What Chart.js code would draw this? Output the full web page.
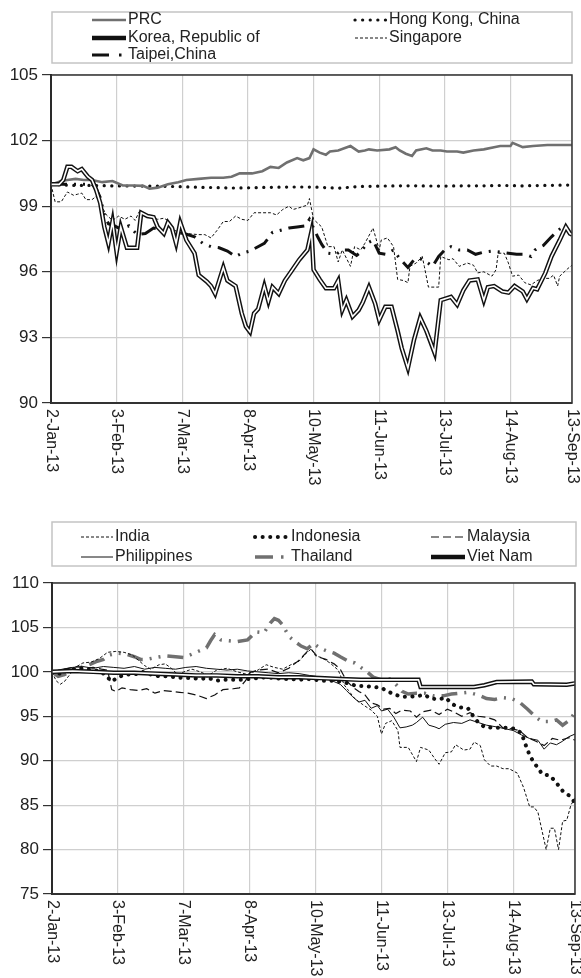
<!DOCTYPE html>
<html>
<head>
<meta charset="utf-8">
<script src="https://cdn.jsdelivr.net/npm/chart.js@4.4.1/dist/chart.umd.min.js"></script>
<style>
  html, body { margin: 0; padding: 0; background: #fff; }
  .panel { position: absolute; left: 0; width: 581px; }
  #top { top: 0; height: 490px; }
  #bottom { top: 490px; height: 488px; }
</style>
</head>
<body>
<div class="panel" id="top"><canvas id="chartTop" width="581" height="490"></canvas></div>
<div class="panel" id="bottom"><canvas id="chartBottom" width="581" height="488"></canvas></div>
<script>
// Daily index levels, 2 Jan 2013 = 100. x = days since 2-Jan-13.

const FONT = "'Liberation Sans', Arial, sans-serif";
const TICK_DAYS = [0, 32, 64, 96, 128, 160, 192, 224, 254];
const TICK_LABELS = ['2-Jan-13', '3-Feb-13', '7-Mar-13', '8-Apr-13', '10-May-13', '11-Jun-13', '13-Jul-13', '14-Aug-13', '13-Sep-13'];

// ---- top panel: East Asia ----
const PRC = [[0,100],[2,100.05],[5,100.15],[8,100.2],[12,100.25],[16,100.2],[20,100.2],[25,100.1],[30,100.15],[35,99.95],[40,99.95],[45,99.93],[48,99.8],[52,99.85],[57,100],[62,100.1],[66,100.2],[72,100.25],[78,100.3],[84,100.3],[88,100.35],[92,100.5],[98,100.5],[103,100.6],[107,100.8],[111,100.75],[115,101],[120,101.2],[123,101.1],[126,101.2],[128,101.6],[131,101.45],[134,101.35],[136,101.5],[140,101.55],[146,101.75],[150,101.5],[153,101.55],[155,101.6],[159,101.55],[165,101.6],[168,101.7],[170,101.55],[173,101.4],[176,101.3],[178,101.55],[183,101.65],[186,101.55],[190,101.55],[193,101.5],[198,101.5],[201,101.45],[206,101.55],[211,101.6],[216,101.7],[219,101.75],[224,101.75],[225,101.9],[230,101.7],[235,101.75],[242,101.8],[248,101.8],[254,101.8]];
const HONG_KONG = [[0,100],[10,99.95],[20,99.95],[30,99.93],[40,99.92],[50,99.92],[60,99.9],[70,99.87],[80,99.85],[90,99.83],[100,99.85],[110,99.87],[120,99.88],[130,99.87],[140,99.82],[150,99.9],[160,99.92],[170,99.93],[180,99.93],[190,99.92],[200,99.93],[210,99.93],[220,99.95],[230,99.93],[240,99.95],[254,99.97]];
const KOREA = [[0,100],[4,100],[6,100.2],[8,100.8],[10,100.8],[13,100.6],[15,100.7],[18,100.35],[20,100.2],[22,99.75],[24,99.15],[26,98.05],[28,97.3],[30,98.3],[32,96.9],[34,98.05],[37,97.1],[42,97.1],[44,98.7],[47,98.55],[50,98.5],[52,98.05],[55,97.75],[57,98.25],[59,98],[61,97.3],[63,98.25],[66,97.45],[70,96.85],[72,95.85],[76,95.55],[78,95.35],[80,95],[82,95.6],[84,96.2],[86,95.6],[90,95.35],[93,94.1],[95,93.5],[97,93.25],[99,94.1],[101,94.3],[104,95.35],[106,94.65],[108,95.3],[111,95],[114,95.6],[117,96],[121,96.55],[125,97],[127,97.85],[128,96.1],[131,95.65],[134,95.25],[138,95.25],[140,95.6],[142,94.25],[144,94.7],[147,93.95],[150,94.25],[152,94.6],[155,95.3],[158,94.55],[160,93.8],[163,94.4],[166,94.4],[169,93.3],[171,92.5],[174,91.6],[177,92.9],[180,93.9],[183,93.3],[187,92.3],[190,94.7],[195,94.85],[198,94.5],[201,95.15],[204,95.6],[208,95.65],[211,94.7],[213,95.3],[216,95.35],[220,95.1],[223,95.05],[226,95.35],[230,95.1],[232,94.75],[235,95.25],[237,95.2],[241,95.95],[244,96.7],[248,97.45],[251,98.05],[253,97.75],[254,97.7]];
const SINGAPORE = [[0,100],[2,99.2],[5,99.2],[8,99.65],[11,99.5],[13,99.55],[15,99.6],[17,99.3],[20,99.3],[22,99.45],[25,98.95],[27,98.6],[30,98.35],[33,98.55],[36,98.4],[39,98.55],[41,98.35],[43,98.75],[46,98.55],[49,98.5],[52,98.4],[55,98.45],[57,98.35],[60,97.9],[63,97.8],[66,97.75],[72,97.7],[75,97.7],[78,97.55],[81,97.9],[84,98.3],[87,98.3],[90,98.55],[93,98.4],[96,98.35],[99,98.7],[107,98.7],[110,98.6],[113,98.85],[116,99],[118,98.85],[120,98.9],[125,99.05],[126,99.35],[128,98.4],[132,98.05],[135,97.15],[138,97.15],[140,96.45],[142,97],[146,96.25],[148,97.15],[151,97],[153,97.3],[157,98],[160,97],[161,97.45],[164,97.55],[167,97.15],[169,95.65],[172,95.6],[174,95.5],[175,96.25],[178,96.4],[181,96.7],[182,96.25],[184,95.3],[189,95.3],[190,96.7],[194,96.55],[196,96.6],[199,96.25],[203,96.4],[206,96.3],[208,95.95],[211,96],[215,95.8],[217,96.1],[218,96.85],[221,96.85],[223,96.4],[225,95.8],[228,95.85],[231,95.5],[234,95.4],[237,95.6],[240,95.7],[243,95.7],[245,95.85],[247,95.35],[248,95.8],[252,96.15],[254,96.3]];
const TAIPEI = [[0,100],[10,100],[20,100],[22,99.8],[24,99.4],[26,98.6],[28,98.2],[31,98.1],[34,97.95],[38,98.1],[42,97.7],[46,97.75],[50,98],[55,97.9],[60,97.8],[65,97.75],[70,97.6],[74,97.3],[78,97.15],[82,97.1],[86,96.95],[90,96.7],[93,96.85],[97,96.95],[100,97.1],[104,97.3],[108,97.8],[112,97.9],[116,98],[120,98.05],[124,98.1],[126,98.4],[128,98],[130,97.6],[132,97.25],[135,96.85],[139,96.8],[142,97],[145,97],[149,96.75],[151,96.9],[154,97.3],[157,97.45],[160,96.85],[163,96.8],[167,97],[170,96.6],[174,96.2],[177,96.55],[180,96.6],[183,96.45],[186,96.25],[189,96.7],[192,97],[195,97.15],[199,97],[203,97],[207,96.8],[211,96.9],[215,96.95],[219,96.9],[223,96.85],[227,96.8],[231,96.8],[234,96.7],[236,97],[240,97.2],[244,97.6],[248,97.95],[250,98.05],[252,97.8],[254,97.7]];
const TOP_NAMES = ['PRC', 'Hong Kong, China', 'Korea, Republic of', 'Singapore', 'Taipei,China'];

// ---- bottom panel: Southeast and South Asia ----
const INDIA = [[0,100],[2,99],[4,98.6],[6,98.9],[9,99.8],[12,100.6],[15,101],[19,101.1],[23,101.5],[27,102.2],[31,102.3],[35,102.2],[39,101.9],[42,101.3],[45,100.7],[48,100.3],[52,100.8],[55,100.9],[58,100.4],[61,99.7],[64,100],[68,100.3],[72,100],[76,99.6],[80,100.2],[85,100.4],[90,100],[95,99.7],[100,100.2],[104,100.8],[108,100.5],[112,100.3],[116,100.8],[120,101.2],[123,102],[126,102.6],[128,101.8],[131,101.6],[135,101],[139,100.2],[142,98.5],[144,97.9],[147,97],[151,96.3],[155,95.7],[158,95],[160,93],[162,94.2],[165,94.5],[168,93.4],[169,91.5],[173,91.5],[177,89.9],[179,91.5],[183,91.2],[186,90.2],[188,89.6],[191,90.9],[194,91],[196,91.8],[200,91.2],[203,91.3],[205,92.1],[208,91.7],[210,90.1],[213,89.4],[216,89.4],[219,89.1],[222,89.1],[226,88.6],[229,87],[232,84.8],[234,84.8],[236,84.2],[240,80],[242,82.4],[244,82.4],[246,80],[248,83.2],[250,83.3],[252,85],[254,85.8]];
const INDONESIA = [[0,100],[4,99.8],[8,100.2],[12,100.4],[16,100.3],[20,100.2],[24,100],[27,99.4],[29,98.9],[32,99.4],[36,99.7],[40,99.7],[44,100],[48,99.7],[52,99.5],[56,99.5],[60,99.4],[64,99.3],[68,99.3],[72,99.2],[76,99.3],[80,99],[84,99.1],[92,99.1],[96,99.2],[100,99.3],[104,99.4],[108,99.3],[112,99.2],[116,99.2],[120,99.1],[124,99.2],[128,99.1],[132,99],[136,99],[140,98.9],[144,98.7],[148,98.4],[152,98.4],[156,98.3],[160,98.2],[163,97.8],[167,97.4],[170,97.2],[174,97.2],[178,97.3],[181,97.4],[184,97],[188,96.9],[191,97.1],[195,96.3],[198,96],[202,95.9],[204,95.2],[207,94.3],[210,93.8],[214,93.7],[218,93.7],[222,93.7],[225,93.6],[228,93.1],[230,91.8],[232,90.6],[234,89.8],[236,89.2],[238,88.5],[242,88.3],[245,87.5],[248,86.6],[251,86.1],[254,85.3]];
const MALAYSIA = [[0,100],[4,100.2],[8,100.4],[12,100.6],[16,100.4],[20,100.5],[24,100.3],[27,100.2],[29,98],[31,97.8],[34,98.2],[38,98],[42,97.9],[46,98.1],[50,97.6],[54,97.9],[58,97.8],[62,97.7],[66,97.6],[70,97.4],[75,97],[79,97.4],[83,98],[88,98.1],[91,98.2],[94,99],[96,99.9],[100,100.2],[105,100.3],[110,99.9],[115,100.4],[120,101.3],[124,102.3],[126,102.5],[129,101.7],[133,101.4],[137,100.9],[140,100.3],[143,99],[146,98.3],[149,97.8],[152,97.4],[155,96.5],[158,96.3],[161,95.8],[164,95.9],[167,95.3],[170,95.7],[174,95.6],[177,94.9],[180,95.5],[184,95.7],[188,95.2],[192,95.8],[195,95.5],[199,95],[203,95.4],[207,95],[211,94.9],[215,94.6],[219,93.7],[223,93.6],[227,93.4],[231,92.6],[235,92.2],[239,91.7],[243,92.5],[247,92.3],[251,92.6],[254,92.3]];
const PHILIPPINES = [[0,100],[5,100.3],[10,100.5],[15,100.6],[20,100.4],[25,100.6],[30,100.5],[35,100.4],[40,100.6],[45,100.3],[50,100.5],[55,100.4],[60,100.3],[65,100.5],[70,100.6],[75,100.4],[80,100.3],[85,100.2],[90,100.3],[95,100.1],[100,100],[105,99.9],[110,99.8],[115,99.9],[120,99.8],[125,99.6],[128,99.5],[132,99.3],[136,99],[140,98.6],[143,97.9],[146,97.2],[149,96.6],[152,96.8],[155,95.9],[158,96.2],[160,95.6],[163,95.8],[166,94.9],[169,93.7],[172,93.8],[175,94],[177,94.3],[180,94.9],[183,94],[186,93.8],[188,93.6],[191,94.1],[195,94.3],[199,94.2],[203,94.6],[207,94.3],[211,94],[216,93.8],[220,93.6],[224,93.4],[228,92.9],[232,92.5],[236,92.3],[239,91.3],[242,92],[245,91.8],[248,92.2],[251,92.7],[254,93]];
const THAILAND = [[0,100],[3,99.5],[6,99.7],[10,100.2],[14,100.5],[18,100.8],[22,101.2],[25,101.4],[28,101.9],[32,102.1],[36,102],[40,101.7],[43,101.4],[46,101.4],[50,101.6],[55,101.8],[60,101.7],[64,101.6],[68,102],[72,102.4],[75,102.7],[77,103.5],[79,104.2],[82,103.6],[86,103.5],[90,103.4],[95,103.6],[99,104.5],[103,104.4],[106,105.5],[108,106],[110,105.8],[112,105.3],[115,104],[118,103.4],[121,102.9],[124,102.6],[127,103.2],[130,102.7],[133,102.4],[137,102.1],[140,101.7],[144,101.2],[147,101],[150,100.5],[153,100],[156,99.4],[160,99.1],[164,99.2],[167,98.6],[170,97.8],[173,97.5],[177,97.6],[181,97.6],[185,97.3],[190,97.3],[194,97.5],[198,97.6],[202,97.7],[207,97.4],[211,97],[215,96.9],[219,97.1],[223,97],[227,96.6],[231,95.8],[235,94.9],[238,94.4],[242,94.4],[245,94.6],[248,94],[251,94.5],[254,95.4]];
const VIET_NAM = [[0,100],[10,100.1],[20,100],[30,99.9],[40,99.9],[50,99.8],[60,99.7],[70,99.6],[80,99.6],[90,99.5],[100,99.5],[110,99.4],[120,99.4],[130,99.3],[140,99.2],[150,99.1],[178,99.1],[179,98.3],[205,98.3],[210,98.5],[216,98.85],[233,98.9],[234,98.6],[250,98.55],[254,98.7]];
const BOTTOM_NAMES = ['India', 'Indonesia', 'Malaysia', 'Philippines', 'Thailand', 'Viet Nam'];

const BLACK = '#111';
const GRAY = '#707070';
const DASH_DOT = [16, 7, 2, 7, 2, 7];
const DASH_DOT_KEY = [17, 10, 2.5, 30];

function pts(arr) { return arr.map(([x, y]) => ({ x, y })); }

function series(label, arr, color, width, dash, extra) {
  return Object.assign({
    label, data: pts(arr), borderColor: color, backgroundColor: color,
    borderWidth: width, borderDash: dash || [], pointRadius: 0, fill: false,
    tension: 0, order: 2,
  }, extra || {});
}

// double line: thick black with a white core drawn on top
function doubleLine(label, arr) {
  return [
    series(label, arr, BLACK, 4.5, [], { order: 1 }),
    series(label + ' core', arr, '#fff', 1.6, [], { order: 0, hideInLegend: true }),
  ];
}

const dotted = (w, gap) => ({ borderCapStyle: 'round', borderDash: [0.1, gap], borderWidth: w });

const topDatasets = [
  series(TOP_NAMES[0], PRC, GRAY, 2.6),
  series(TOP_NAMES[1], HONG_KONG, BLACK, 3.2, null, dotted(3.2, 7.5)),
  ...doubleLine(TOP_NAMES[2], KOREA),
  series(TOP_NAMES[3], SINGAPORE, BLACK, 1, [3, 2]),
  series(TOP_NAMES[4], TAIPEI, BLACK, 3, DASH_DOT, { keyDash: DASH_DOT_KEY }),
];

const bottomDatasets = [
  series(BOTTOM_NAMES[0], INDIA, BLACK, 1, [3, 2]),
  series(BOTTOM_NAMES[1], INDONESIA, BLACK, 4, null, dotted(4, 7.5)),
  series(BOTTOM_NAMES[2], MALAYSIA, BLACK, 1.2, [8, 4]),
  series(BOTTOM_NAMES[3], PHILIPPINES, BLACK, 1),
  series(BOTTOM_NAMES[4], THAILAND, GRAY, 3.5, DASH_DOT, { keyDash: [18, 8, 2.5, 30] }),
  ...doubleLine(BOTTOM_NAMES[5], VIET_NAM),
];

// plot-area frame (top and right edges too)
const framePlugin = {
  id: 'frame',
  afterDatasetsDraw(chart) {
    const { ctx, chartArea: a } = chart;
    ctx.save();
    ctx.strokeStyle = '#333';
    ctx.lineWidth = 1.5;
    ctx.strokeRect(a.left, a.top, a.right - a.left, a.bottom - a.top);
    ctx.restore();
  },
};

// date labels read top-to-bottom under each gridline
const dateLabelPlugin = {
  id: 'dateLabels',
  afterDraw(chart) {
    const { ctx, chartArea: a } = chart;
    const xs = chart.scales.x;
    ctx.save();
    ctx.font = '16px ' + FONT;
    ctx.fillStyle = '#222';
    ctx.textAlign = 'left';
    ctx.textBaseline = 'middle';
    TICK_DAYS.forEach((d, i) => {
      ctx.save();
      ctx.translate(xs.getPixelForValue(d), a.bottom + 6);
      ctx.rotate(Math.PI / 2);
      ctx.fillText(TICK_LABELS[i], 0, 0);
      ctx.restore();
    });
    ctx.restore();
  },
};

// boxed legend laid out in columns
const boxLegendPlugin = {
  id: 'boxLegend',
  afterDraw(chart, args, opts) {
    const { ctx } = chart;
    const ds = chart.data.datasets.filter(d => !d.hideInLegend);
    ctx.save();
    ctx.strokeStyle = '#c4c4c4';
    ctx.lineWidth = 1.5;
    ctx.strokeRect(...opts.box);
    ctx.font = '16px ' + FONT;
    ctx.fillStyle = '#222';
    ctx.textBaseline = 'middle';
    ds.forEach((d, i) => {
      const col = opts.cols[i % opts.cols.length];
      const y = opts.rows[Math.floor(i / opts.cols.length)];
      ctx.save();
      ctx.strokeStyle = d.borderColor;
      ctx.lineWidth = d.borderWidth;
      ctx.setLineDash(d.keyDash || d.borderDash || []);
      ctx.lineCap = d.borderCapStyle || 'butt';
      ctx.beginPath();
      ctx.moveTo(col[0], y);
      ctx.lineTo(col[1], y);
      ctx.stroke();
      ctx.restore();
      ctx.fillText(d.label, col[2], y);
    });
    ctx.restore();
  },
};

function makeChart(id, datasets, cfg) {
  return new Chart(document.getElementById(id), {
    type: 'line',
    data: { datasets },
    plugins: [framePlugin, dateLabelPlugin, boxLegendPlugin],
    options: {
      responsive: false,
      animation: false,
      events: [],
      layout: { padding: { top: cfg.top, right: cfg.right, left: 0, bottom: 0 } },
      plugins: {
        legend: { display: false },
        tooltip: { enabled: false },
        boxLegend: cfg.legend,
      },
      scales: {
        x: {
          type: 'linear', min: 0, max: 254,
          afterBuildTicks: s => { s.ticks = TICK_DAYS.map(v => ({ value: v })); },
          afterFit: s => { s.height = cfg.xHeight; },
          ticks: { display: false },
          grid: { color: '#cfcfcf', lineWidth: 1.2, drawTicks: false },
          border: { color: '#333', width: 2 },
        },
        y: {
          min: cfg.yMin, max: cfg.yMax,
          afterFit: s => { s.width = cfg.left; },
          ticks: { stepSize: cfg.yStep, color: '#222', font: { family: FONT, size: 17 }, padding: 4 },
          grid: { color: '#cfcfcf', lineWidth: 1.2, tickLength: 9, tickColor: '#333' },
          border: { color: '#111', width: 2 },
        },
      },
    },
  });
}

makeChart('chartTop', topDatasets, {
  top: 75, right: 9, left: 51, xHeight: 87, yMin: 90, yMax: 105, yStep: 3,
  legend: { box: [52, 12, 520, 51], rows: [20, 38, 55], cols: [[92, 126, 128], [355, 387, 389]] },
});

makeChart('chartBottom', bottomDatasets, {
  top: 93, right: 6, left: 52, xHeight: 84, yMin: 75, yMax: 110, yStep: 5,
  legend: { box: [52, 32, 524, 44], rows: [47, 67], cols: [[81, 113, 115], [255, 287, 291], [431, 465, 467]] },
});
</script>
</body>
</html>
